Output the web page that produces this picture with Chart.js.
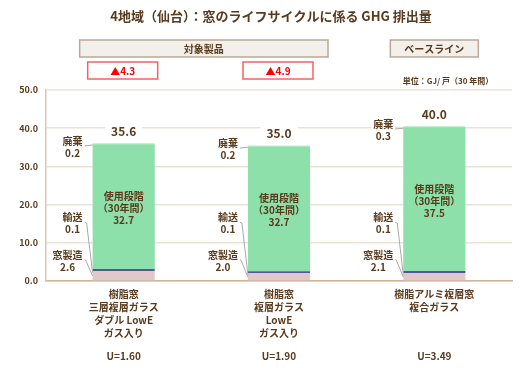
<!DOCTYPE html>
<html>
<head>
<meta charset="utf-8">
<script src="https://cdn.jsdelivr.net/npm/chart.js@4"></script>
<style>
  body { margin: 0; background: #fff; }
  #wrap { width: 525px; height: 370px; position: relative; }
</style>
</head>
<body>
<div id="wrap"><canvas id="grafico"></canvas></div>
<script>
const categories = [
  ["樹脂窓", "三層複層ガラス", "ダブル LowE", "ガス入り"],
  ["樹脂窓", "複層ガラス", "LowE", "ガス入り"],
  ["樹脂アルミ複層窓", "複合ガラス"]
];
const uValues = ["U=1.60", "U=1.90", "U=3.49"];
const manufacture = [2.6, 2.0, 2.1];
const transport = [0.1, 0.1, 0.1];
const usePhase = [32.7, 32.7, 37.5];
const disposal = [0.2, 0.2, 0.3];
const totals = [35.6, 35.0, 40.0];
const reductions = ["▲4.3", "▲4.9", null];
const yTicks = [0, 10, 20, 30, 40, 50];

const brown = "#5A3A1C";
const fontJP = "'Noto Sans CJK JP', 'Noto Sans', sans-serif";

function labelBlock(ctx, lines, cx, y, lineH) {
  let w = 0;
  lines.forEach((l) => (w = Math.max(w, ctx.measureText(l).width)));
  ctx.fillStyle = "#fff";
  ctx.fillRect(cx - w / 2 - 2, y - 7, w + 4, lineH * lines.length + 2);
  ctx.fillStyle = brown;
  lines.forEach((l, i) => ctx.fillText(l, cx, y + i * lineH));
}

const decor = {
  id: "decor",
  afterDatasetsDraw(chart) {
    const ctx = chart.ctx;
    const x = chart.scales.x;
    const y = chart.scales.y;
    ctx.save();
    ctx.textAlign = "center";
    ctx.textBaseline = "middle";

    categories.forEach((cat, i) => {
      const bar = chart.getDatasetMeta(2).data[i];
      const left = bar.x - bar.width / 2;
      const right = left - 10;
      const base = y.getPixelForValue(0);
      const top = y.getPixelForValue(totals[i]);

      // 廃棄
      ctx.font = "bold 10px " + fontJP;
      let lines = ["廃棄", disposal[i].toFixed(1)];
      let w = Math.max(...lines.map((l) => ctx.measureText(l).width));
      ctx.strokeStyle = "#A9A9A9";
      ctx.lineWidth = 1;
      ctx.beginPath();
      ctx.moveTo(right, top + 1);
      ctx.lineTo(left, top);
      ctx.stroke();
      labelBlock(ctx, lines, right - w / 2, top - 4, 12);

      // 輸送
      lines = ["輸送", transport[i].toFixed(1)];
      w = Math.max(...lines.map((l) => ctx.measureText(l).width));
      let ly = base - 64;
      ctx.beginPath();
      ctx.moveTo(right + 1, ly + 5);
      ctx.lineTo(right + 4, ly + 6);
      ctx.lineTo(left, y.getPixelForValue(manufacture[i] + transport[i]) + 2);
      ctx.stroke();
      labelBlock(ctx, lines, right - w / 2, ly, 12);

      // 窓製造
      lines = ["窓製造", manufacture[i].toFixed(1)];
      w = Math.max(...lines.map((l) => ctx.measureText(l).width));
      ly = base - 26;
      ctx.beginPath();
      ctx.moveTo(right + 1, ly + 4);
      ctx.lineTo(right + 3, ly + 5);
      ctx.lineTo(left, y.getPixelForValue(manufacture[i] / 2));
      ctx.stroke();
      labelBlock(ctx, lines, right - w / 2, ly, 12);

      // 使用段階 inside green
      const mid = y.getPixelForValue(manufacture[i] + transport[i] + usePhase[i] / 2);
      ctx.fillStyle = brown;
      ctx.fillText("使用段階", bar.x, mid - 12);
      ctx.fillText("（30年間）", bar.x, mid);
      ctx.fillText(usePhase[i].toFixed(1), bar.x, mid + 12);

      // total
      ctx.font = "bold 12px " + fontJP;
      const t = totals[i].toFixed(1);
      const tw = ctx.measureText(t).width;
      ctx.fillStyle = "#fff";
      ctx.fillRect(bar.x - tw / 2 - 6, top - 22, tw + 12, 16);
      ctx.fillStyle = brown;
      ctx.fillText(t, bar.x, top - 14);

      // category labels
      ctx.font = "bold 10px " + fontJP;
      cat.forEach((l, k) => ctx.fillText(l, bar.x, base + 13 + k * 13));
      ctx.fillText(uValues[i], bar.x, base + 75);

      // reduction boxes
      if (reductions[i]) {
        ctx.fillStyle = "#fff";
        ctx.strokeStyle = "#F46262";
        ctx.lineWidth = 1.5;
        ctx.fillRect(bar.x - 36, 62, 70, 17);
        ctx.strokeRect(bar.x - 36, 62, 70, 17);
        ctx.fillStyle = "#FF0000";
        ctx.fillText(reductions[i], bar.x - 1, 71);
      }
    });

    // header boxes
    const c0 = x.getPixelForValue(0);
    const c1 = x.getPixelForValue(1);
    const c2 = x.getPixelForValue(2);
    ctx.lineWidth = 1.5;
    ctx.fillStyle = "#F3EFEB";
    ctx.strokeStyle = "#BBA996";
    ctx.fillRect(c0 - 44, 40, c1 - c0 + 93, 17);
    ctx.strokeRect(c0 - 44, 40, c1 - c0 + 93, 17);
    ctx.fillRect(c2 - 44, 40, 88, 17);
    ctx.strokeRect(c2 - 44, 40, 88, 17);
    ctx.fillStyle = brown;
    ctx.font = "bold 10px " + fontJP;
    ctx.fillText("対象製品", (c0 - 44 + c1 + 49) / 2, 49);
    ctx.fillText("ベースライン", c2, 49);

    // unit
    ctx.font = "bold 8px " + fontJP;
    ctx.fillText("単位：GJ/ 戸（30 年間）", 448, 81);

    // title
    ctx.font = "bold 13px " + fontJP;
    ctx.fillText("4地域（仙台）：窓のライフサイクルに係る GHG 排出量", 271, 16);
    ctx.restore();
  },
};

new Chart(document.getElementById("grafico"), {
  type: "bar",
  data: {
    labels: categories.map((c) => c.join(" ")),
    datasets: [
      { label: "窓製造", data: manufacture, backgroundColor: "#E2C7CB" },
      { label: "輸送", data: transport, backgroundColor: "#55559A", minBarLength: 2 },
      { label: "使用段階", data: usePhase, backgroundColor: "#8DE0AA" },
      { label: "廃棄", data: disposal, backgroundColor: "#8DE0AA" },
    ],
  },
  options: {
    responsive: true,
    maintainAspectRatio: false,
    animation: false,
    layout: { padding: { top: 90, right: 13, left: 0, bottom: 0 } },
    datasets: { bar: { barPercentage: 0.4, categoryPercentage: 1 } },
    plugins: { legend: { display: false }, tooltip: { enabled: false } },
    scales: {
      x: {
        stacked: true,
        grid: { display: false },
        border: { color: "#CDB49A", width: 1.5 },
        ticks: { display: false },
        afterFit: (s) => (s.height = 89),
      },
      y: {
        stacked: true,
        min: 0,
        max: 50,
        afterBuildTicks: (s) => (s.ticks = yTicks.map((v) => ({ value: v }))),
        grid: { color: "#EBE2D6", lineWidth: 1.5, drawTicks: false },
        border: { color: "#D9C8B6", width: 1.5 },
        ticks: {
          padding: 8,
          color: brown,
          font: { size: 9, weight: "bold", family: fontJP },
          callback: (v) => v.toFixed(1),
        },
        afterFit: (s) => (s.width = 46),
      },
    },
  },
  plugins: [decor],
});
</script>
</body>
</html>
